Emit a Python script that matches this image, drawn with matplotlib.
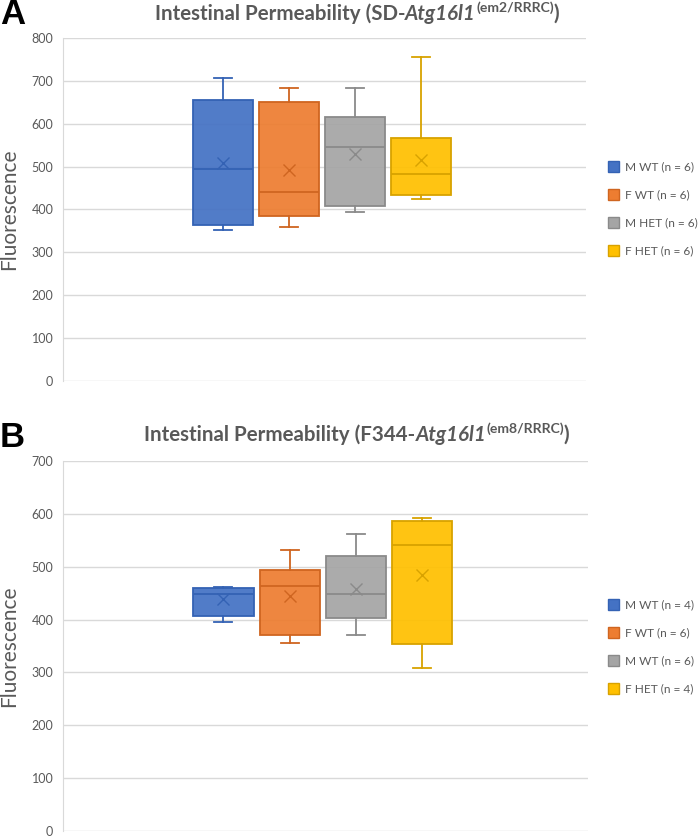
import matplotlib
matplotlib.use('Agg')
import matplotlib.pyplot as plt
from matplotlib.patches import Patch
from matplotlib.colors import to_rgba

plt.rcParams['font.family'] = ['Lato', 'DejaVu Sans']

# colours of the four groups (Excel office palette)
colors = ['#4472C4', '#ED7D31', '#A5A5A5', '#FFC000']
edges = ['#3462B4', '#CF6520', '#8A8A8A', '#D8A200']
txt = '#595959'

# panel A: SD-Atg16l1
a_labels = ['M WT (n = 6)', 'F WT (n = 6)', 'M HET (n = 6)', 'F HET (n = 6)']
a_low = [352, 360, 394, 425]
a_q1 = [364, 385, 408, 433]
a_med = [494, 440, 547, 484]
a_q3 = [655, 651, 617, 568]
a_high = [707, 683, 685, 756]
a_mean = [509, 492, 529, 515]

# panel B: F344-Atg16l1
b_labels = ['M WT (n = 4)', 'F WT (n = 6)', 'M WT (n = 6)', 'F HET (n = 4)']
b_low = [395, 355, 371, 308]
b_q1 = [407, 371, 403, 354]
b_med = [448, 463, 449, 542]
b_q3 = [460, 494, 521, 586]
b_high = [461, 531, 561, 592]
b_mean = [438, 445, 458, 484]

fig = plt.figure(figsize=(7, 8.4), dpi=100)
W, H = 700, 840


def panel(rect, low, q1, med, q3, high, mean, ymax, labels, leg_y):
    ax = fig.add_axes(rect)
    for i in range(len(low)):
        st = dict(whislo=low[i], q1=q1[i], med=med[i], q3=q3[i],
                  whishi=high[i], mean=mean[i])
        ax.bxp([st], positions=[i + 1], widths=0.91, showmeans=True,
               showfliers=False, patch_artist=True, capwidths=0.27,
               boxprops=dict(facecolor=to_rgba(colors[i], 0.93),
                             edgecolor=edges[i], linewidth=1.3),
               medianprops=dict(color=edges[i], linewidth=1.3),
               whiskerprops=dict(color=edges[i], linewidth=1.3),
               capprops=dict(color=edges[i], linewidth=1.3),
               meanprops=dict(marker='x', markeredgecolor=edges[i],
                              markersize=9, markeredgewidth=1.0))
    ax.set_xlim(-1.42, 6.5)
    ax.set_ylim(0, ymax)
    ax.set_yticks(range(0, ymax + 1, 100))
    ax.set_xticks([])
    ax.yaxis.grid(True, color='#d9d9d9', linewidth=1)
    ax.set_axisbelow(True)
    for s in ['top', 'right', 'bottom']:
        ax.spines[s].set_visible(False)
    ax.spines['left'].set_color('#d9d9d9')
    ax.tick_params(axis='y', length=0, pad=7, labelsize=9, labelcolor=txt)
    handles = [Patch(facecolor=colors[i], edgecolor=edges[i], linewidth=1)
               for i in range(len(labels))]
    fig.legend(handles, labels, loc='center left', bbox_to_anchor=(0.853, leg_y),
               frameon=False, fontsize=8.6, handlelength=0.95, handleheight=0.95,
               handletextpad=0.5, labelspacing=1.4, labelcolor=txt)
    # y label
    y0, y1 = rect[1], rect[1] + rect[3]
    fig.text(9 / W, (y0 + y1) / 2, 'Fluorescence', rotation=90, ha='center',
             va='center', fontsize=15, color=txt)
    return ax


def title(yc, strain, allele, size=14.8):
    renderer = fig.canvas.get_renderer()
    pieces = [('Intestinal Permeability (' + strain + '-', 'normal', size, 0),
              ('Atg16l1', 'italic', size, 0),
              ('(' + allele + ')', 'normal', size * 0.68, size * 0.55),
              (')', 'normal', size, 0)]
    objs = []
    total = 0
    for s, style, fs, dy in pieces:
        t = fig.text(0, 0, s, fontsize=fs, fontweight='bold', style=style,
                     color=txt, va='baseline', ha='left')
        w = t.get_window_extent(renderer).width
        objs.append((t, w, dy))
        total += w
    x = 357 - total / 2
    for t, w, dy in objs:
        t.set_position((x / W, yc + dy / H))
        x += w


panel([63 / W, 1 - 380.7 / H, 523 / W, 342.4 / H],
      a_low, a_q1, a_med, a_q3, a_high, a_mean, 800, a_labels, 1 - 209 / H)
panel([63 / W, 1 - 831 / H, 525 / W, 370 / H],
      b_low, b_q1, b_med, b_q3, b_high, b_mean, 700, b_labels, 1 - 647 / H)

fig.canvas.draw()
title(1 - 20 / H, 'SD', 'em2/RRRC')
title(1 - 441 / H, 'F344', 'em8/RRRC')

fig.text(0.0, 1 - 15 / H, 'A', fontsize=25, fontweight='bold', va='center',
         ha='left', family='Liberation Sans')
fig.text(0.0, 1 - 437 / H, 'B', fontsize=25, fontweight='bold', va='center',
         ha='left', family='Liberation Sans')

fig.savefig('out.png', dpi=100)
